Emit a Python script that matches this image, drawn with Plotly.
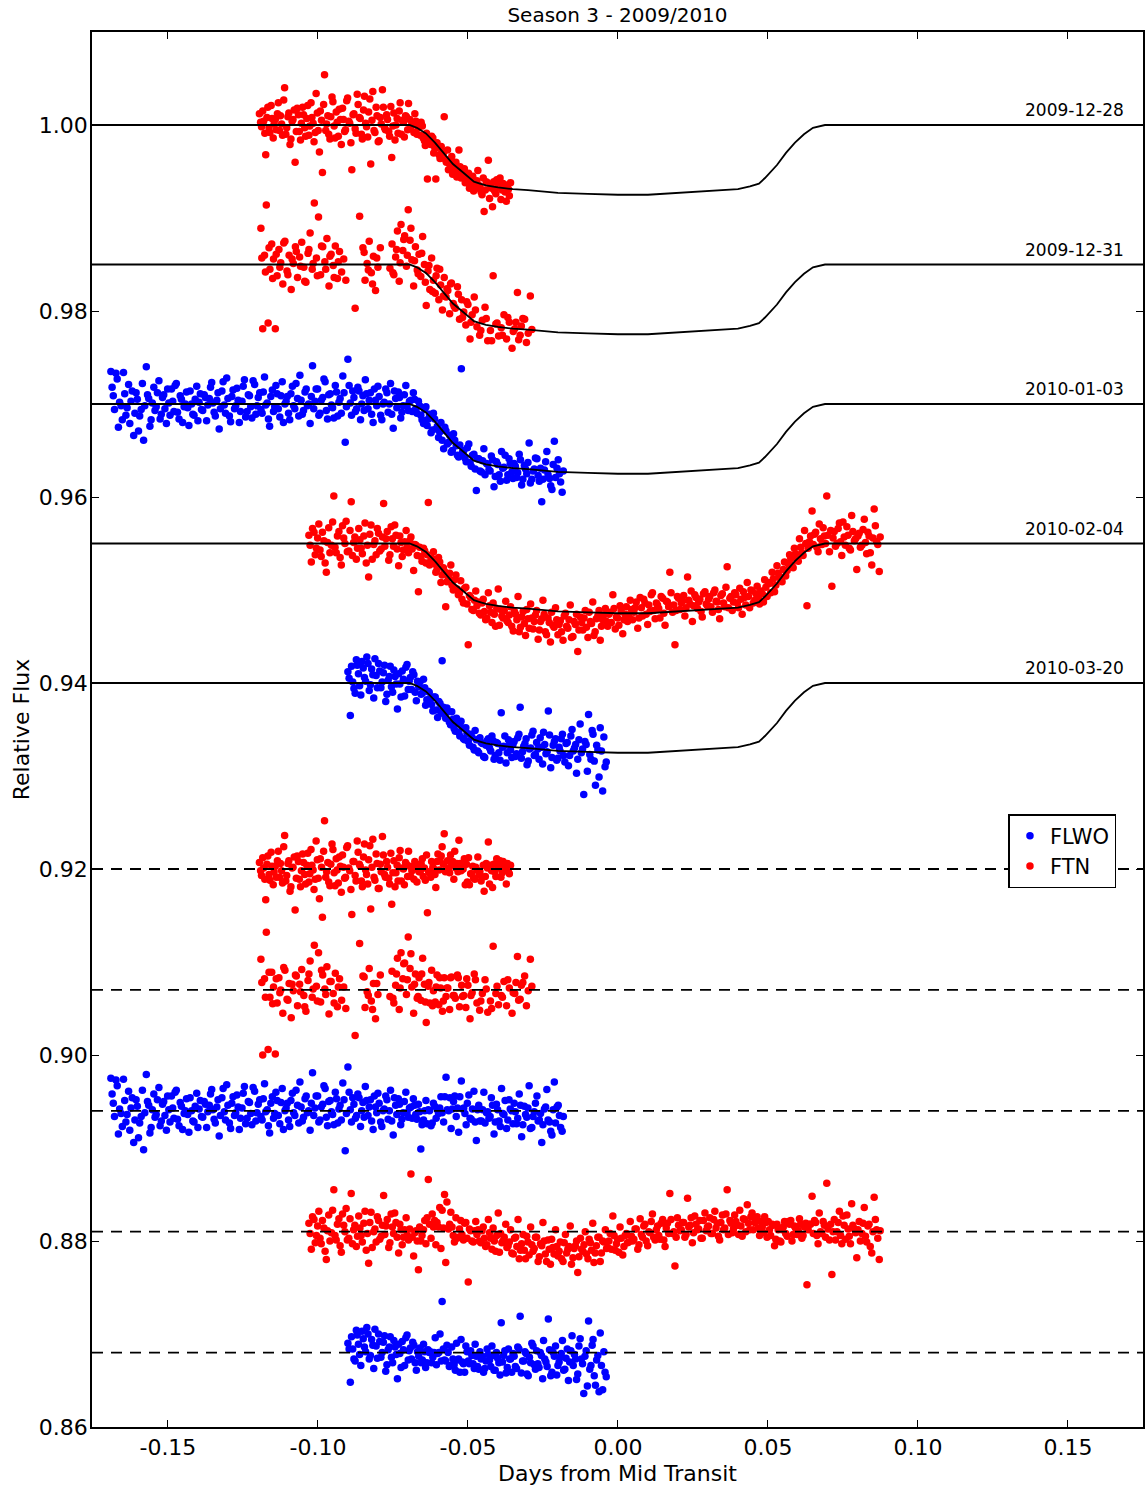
import plotly.graph_objects as go

# ---------------- data ----------------
nights = ["2009-12-28", "2009-12-31", "2010-01-03", "2010-02-04", "2010-03-20"]
telescopes = ["FTN", "FTN", "FLWO", "FTN", "FLWO"]
baselines = [1.000, 0.985, 0.970, 0.955, 0.940]
resid_baselines = [0.920, 0.907, 0.894, 0.881, 0.868]

model_x = [-0.1760, -0.0695, -0.0670, -0.0640, -0.0610, -0.0580, -0.0550, -0.0520, -0.0500, -0.0480,
           -0.0460, -0.0440, -0.0400, -0.0350, -0.0300, -0.0200, -0.0100, 0.0000, 0.0100, 0.0200,
           0.0300, 0.0400, 0.0440, 0.0470, 0.0490, 0.0510, 0.0530, 0.0560, 0.0590, 0.0620,
           0.0650, 0.0690, 0.1760]
model_depth = [0.0, 0.0, 0.0003, 0.0009, 0.0019, 0.0030, 0.0042, 0.0050, 0.0056, 0.0061,
               0.0063, 0.0065, 0.0067, 0.0069, 0.0070, 0.0073, 0.0074, 0.0075, 0.0075, 0.0073,
               0.0071, 0.0069, 0.0066, 0.0063, 0.0057, 0.0050, 0.0043, 0.0030, 0.0019, 0.0010,
               0.0003, 0.0, 0.0]

# ---- 2009-12-28 (FTN) ----
x_1228 = [-0.1195, -0.1188, -0.1181, -0.1174, -0.1167, -0.1160, -0.1153, -0.1146, -0.1139, -0.1132,
          -0.1125, -0.1118, -0.1111, -0.1104, -0.1097, -0.1090, -0.1083, -0.1076, -0.1069, -0.1062,
          -0.1055, -0.1048, -0.1041, -0.1034, -0.1027, -0.1020, -0.1013, -0.1006, -0.0999, -0.0992,
          -0.0985, -0.0978, -0.0971, -0.0964, -0.0957, -0.0950, -0.0943, -0.0936, -0.0929, -0.0922,
          -0.0915, -0.0908, -0.0901, -0.0894, -0.0887, -0.0880, -0.0873, -0.0866, -0.0859, -0.0852,
          -0.0845, -0.0838, -0.0831, -0.0824, -0.0817, -0.0810, -0.0803, -0.0796, -0.0789, -0.0782,
          -0.0775, -0.0768, -0.0761, -0.0754, -0.0747, -0.0740, -0.0733, -0.0726, -0.0719, -0.0712,
          -0.0705, -0.0698, -0.0691, -0.0684, -0.0677, -0.0670, -0.0663, -0.0656, -0.0649, -0.0642,
          -0.0635, -0.0628, -0.0621, -0.0614, -0.0607, -0.0600, -0.0593, -0.0586, -0.0579, -0.0572,
          -0.0565, -0.0558, -0.0551, -0.0544, -0.0537, -0.0530, -0.0523, -0.0516, -0.0509, -0.0502,
          -0.0495, -0.0488, -0.0481, -0.0474, -0.0467, -0.0460, -0.0453, -0.0446, -0.0439, -0.0432,
          -0.0425, -0.0418, -0.0411, -0.0404, -0.0397, -0.0390, -0.0383, -0.0376, -0.0369, -0.0362,
          -0.1191, -0.1184, -0.1177, -0.1170, -0.1163, -0.1156, -0.1149, -0.1142, -0.1135, -0.1128,
          -0.1121, -0.1114, -0.1107, -0.1100, -0.1093, -0.1086, -0.1079, -0.1072, -0.1065, -0.1058,
          -0.1051, -0.1044, -0.1037, -0.1030, -0.1023, -0.1016, -0.1009, -0.1002, -0.0995, -0.0988,
          -0.0981, -0.0974, -0.0967, -0.0960, -0.0953, -0.0946, -0.0939, -0.0932, -0.0925, -0.0918,
          -0.0911, -0.0904, -0.0897, -0.0890, -0.0883, -0.0876, -0.0869, -0.0862, -0.0855, -0.0848,
          -0.0841, -0.0834, -0.0827, -0.0820, -0.0813, -0.0806, -0.0799, -0.0792, -0.0785, -0.0778,
          -0.0771, -0.0764, -0.0757, -0.0750, -0.0743, -0.0736, -0.0729, -0.0722, -0.0715, -0.0708,
          -0.0701, -0.0694, -0.0687, -0.0680, -0.0673, -0.0666, -0.0659, -0.0652, -0.0645, -0.0638,
          -0.0631, -0.0624, -0.0617, -0.0610, -0.0603, -0.0596, -0.0589, -0.0582, -0.0575, -0.0568,
          -0.0561, -0.0554, -0.0547, -0.0540, -0.0533, -0.0526, -0.0519, -0.0512, -0.0505, -0.0498,
          -0.0491, -0.0484, -0.0477, -0.0470, -0.0463, -0.0456, -0.0449, -0.0442, -0.0435, -0.0428,
          -0.0421, -0.0414, -0.0407, -0.0400, -0.0393, -0.0386, -0.0379, -0.0372, -0.0365, -0.0358]
flux_1228 = [1.0012, 0.9998, 1.0004, 0.9968, 1.0019, 0.9992, 1.0007, 1.0001, 0.9995, 1.0024,
             1.0010, 0.9989, 1.0040, 0.9997, 1.0013, 0.9985, 1.0006, 0.9960, 1.0018, 0.9993,
             1.0002, 1.0011, 0.9988, 1.0021, 0.9999, 1.0008, 0.9982, 1.0034, 0.9994, 1.0015,
             0.9949, 1.0054, 1.0001, 0.9990, 1.0009, 1.0025, 0.9986, 1.0003, 1.0017, 0.9979,
             1.0006, 0.9995, 1.0029, 1.0002, 0.9952, 1.0012, 0.9991, 1.0022, 1.0007, 0.9985,
             1.0031, 0.9998, 1.0014, 0.9958, 1.0036, 0.9992, 1.0010, 0.9983, 1.0001, 1.0019,
             0.9995, 1.0006, 0.9988, 0.9965, 1.0013, 1.0000, 0.9991, 1.0024, 1.0005, 0.9987,
             1.0009, 1.0023, 0.9996, 1.0003, 1.0012, 0.9990, 0.9998, 1.0003, 0.9986, 0.9978,
             0.9942, 0.9980, 0.9988, 0.9970, 0.9942, 0.9976, 0.9964, 0.9972, 1.0009, 0.9960,
             0.9952, 0.9961, 0.9947, 0.9955, 0.9944, 0.9973, 0.9943, 0.9950, 0.9938, 0.9945,
             0.9932, 0.9940, 0.9929, 0.9936, 0.9951, 0.9934, 0.9925, 0.9907, 0.9939, 0.9962,
             0.9936, 0.9912, 0.9929, 0.9941, 0.9933, 0.9920, 0.9937, 0.9928, 0.9934, 0.9924,
             1.0003, 1.0015, 0.9991, 1.0008, 0.9997, 1.0021, 0.9986, 1.0006, 1.0012, 0.9994,
             1.0001, 1.0027, 0.9990, 1.0009, 0.9979, 1.0004, 1.0016, 0.9993, 1.0011, 0.9984,
             1.0019, 0.9997, 1.0007, 0.9989, 1.0024, 1.0002, 0.9992, 1.0013, 0.9971, 1.0005,
             1.0022, 0.9994, 1.0010, 0.9985, 1.0030, 0.9999, 1.0014, 0.9988, 1.0006, 1.0018,
             0.9993, 1.0026, 1.0004, 0.9981, 1.0011, 0.9996, 1.0033, 1.0008, 0.9990, 1.0016,
             1.0002, 0.9987, 1.0028, 1.0005, 0.9994, 1.0019, 0.9982, 1.0008, 1.0038, 0.9997,
             1.0011, 0.9993, 1.0020, 0.9999, 0.9984, 1.0007, 1.0015, 0.9990, 1.0003, 1.0010,
             0.9995, 1.0006, 1.0001, 0.9992, 1.0004, 0.9997, 0.9989, 0.9999, 0.9983, 0.9991,
             0.9985, 0.9979, 0.9986, 0.9975, 0.9981, 0.9968, 0.9977, 0.9970, 0.9963, 0.9973,
             0.9958, 0.9966, 0.9951, 0.9960, 0.9949, 0.9955, 0.9946, 0.9953, 0.9941, 0.9948,
             0.9937, 0.9945, 0.9931, 0.9940, 0.9935, 0.9928, 0.9943, 0.9930, 0.9938, 0.9921,
             0.9932, 0.9939, 0.9926, 0.9935, 0.9943, 0.9930, 0.9936, 0.9918, 0.9931, 0.9938]
resid_1228 = [0.9207, 0.9193, 0.9201, 0.9167, 0.9214, 0.9188, 0.9203, 0.9197, 0.9191, 0.9219,
              0.9206, 0.9185, 0.9236, 0.9193, 0.9209, 0.9181, 0.9202, 0.9156, 0.9214, 0.9189,
              0.9198, 0.9207, 0.9184, 0.9217, 0.9195, 0.9204, 0.9178, 0.9230, 0.9190, 0.9211,
              0.9148, 0.9252, 0.9197, 0.9186, 0.9205, 0.9221, 0.9182, 0.9199, 0.9213, 0.9175,
              0.9202, 0.9191, 0.9225, 0.9198, 0.9151, 0.9208, 0.9187, 0.9218, 0.9203, 0.9181,
              0.9227, 0.9194, 0.9210, 0.9157, 0.9232, 0.9188, 0.9206, 0.9179, 0.9197, 0.9215,
              0.9191, 0.9202, 0.9184, 0.9162, 0.9209, 0.9196, 0.9187, 0.9220, 0.9201, 0.9183,
              0.9205, 0.9219, 0.9192, 0.9199, 0.9208, 0.9186, 0.9197, 0.9206, 0.9192, 0.9188,
              0.9153, 0.9196, 0.9208, 0.9200, 0.9180, 0.9216, 0.9209, 0.9224, 0.9238, 0.9198,
              0.9201, 0.9215, 0.9208, 0.9219, 0.9206, 0.9231, 0.9198, 0.9200, 0.9183, 0.9186,
              0.9183, 0.9195, 0.9190, 0.9202, 0.9213, 0.9197, 0.9191, 0.9176, 0.9206, 0.9229,
              0.9204, 0.9180, 0.9197, 0.9211, 0.9203, 0.9191, 0.9208, 0.9199, 0.9206, 0.9195,
              0.9198, 0.9212, 0.9189, 0.9205, 0.9194, 0.9218, 0.9183, 0.9203, 0.9209, 0.9191,
              0.9198, 0.9224, 0.9187, 0.9206, 0.9176, 0.9201, 0.9213, 0.9190, 0.9208, 0.9181,
              0.9216, 0.9194, 0.9204, 0.9186, 0.9221, 0.9199, 0.9189, 0.9210, 0.9168, 0.9202,
              0.9219, 0.9191, 0.9207, 0.9182, 0.9227, 0.9196, 0.9211, 0.9185, 0.9203, 0.9215,
              0.9190, 0.9223, 0.9201, 0.9178, 0.9208, 0.9193, 0.9230, 0.9205, 0.9187, 0.9213,
              0.9199, 0.9184, 0.9225, 0.9202, 0.9191, 0.9216, 0.9179, 0.9205, 0.9235, 0.9194,
              0.9208, 0.9190, 0.9217, 0.9196, 0.9181, 0.9204, 0.9212, 0.9187, 0.9200, 0.9207,
              0.9192, 0.9203, 0.9198, 0.9189, 0.9205, 0.9202, 0.9197, 0.9211, 0.9201, 0.9215,
              0.9197, 0.9191, 0.9202, 0.9194, 0.9208, 0.9199, 0.9214, 0.9205, 0.9197, 0.9209,
              0.9196, 0.9204, 0.9189, 0.9201, 0.9197, 0.9206, 0.9200, 0.9211, 0.9205, 0.9212,
              0.9195, 0.9203, 0.9189, 0.9199, 0.9194, 0.9187, 0.9204, 0.9192, 0.9201, 0.9184,
              0.9198, 0.9205, 0.9192, 0.9201, 0.9209, 0.9196, 0.9202, 0.9184, 0.9197, 0.9204]

# ---- 2009-12-31 (FTN) ----
x_1231 = [-0.1190, -0.1184, -0.1178, -0.1172, -0.1166, -0.1160, -0.1154, -0.1148, -0.1142, -0.1136,
          -0.1130, -0.1124, -0.1117, -0.1110, -0.1103, -0.1096, -0.1089, -0.1082, -0.1075, -0.1068,
          -0.1061, -0.1054, -0.1047, -0.1040, -0.1033, -0.1026, -0.1019, -0.1012, -0.1005, -0.0998,
          -0.0991, -0.0984, -0.0977, -0.0970, -0.0963, -0.0956, -0.0949, -0.0942, -0.0935, -0.0928,
          -0.0921, -0.0914, -0.0907, -0.0876, -0.0861, -0.0850, -0.0843, -0.0836, -0.0829, -0.0822,
          -0.0815, -0.0808, -0.0800, -0.0792, -0.0760, -0.0753, -0.0747, -0.0741, -0.0735, -0.0729,
          -0.0723, -0.0717, -0.0711, -0.0705, -0.0699, -0.0693, -0.0687, -0.0681, -0.0675, -0.0669,
          -0.0663, -0.0657, -0.0651, -0.0645, -0.0639, -0.0633, -0.0627, -0.0621, -0.0615, -0.0609,
          -0.0603, -0.0597, -0.0591, -0.0585, -0.0579, -0.0573, -0.0567, -0.0561, -0.0555, -0.0549,
          -0.0542, -0.0535, -0.0528, -0.0521, -0.0514, -0.0507, -0.0500, -0.0493, -0.0486, -0.0479,
          -0.0470, -0.0461, -0.0452, -0.0443, -0.0434, -0.0425, -0.0416, -0.0407, -0.0398, -0.0389,
          -0.0380, -0.0371, -0.0362, -0.0353, -0.0344, -0.0335, -0.0326, -0.0317, -0.0305, -0.0292,
          -0.1187, -0.1175, -0.1163, -0.1151, -0.1139, -0.1127, -0.1114, -0.1100, -0.1086, -0.1072,
          -0.1058, -0.1044, -0.1030, -0.1016, -0.1002, -0.0988, -0.0974, -0.0960, -0.0946, -0.0932,
          -0.0846, -0.0832, -0.0818, -0.0804, -0.0750, -0.0738, -0.0726, -0.0714, -0.0702, -0.0690,
          -0.0678, -0.0666, -0.0654, -0.0642, -0.0630, -0.0618, -0.0606, -0.0594, -0.0582, -0.0570,
          -0.0558, -0.0546, -0.0532, -0.0518, -0.0504, -0.0490, -0.0475, -0.0457, -0.0439, -0.0421,
          -0.0403, -0.0385, -0.0367, -0.0349, -0.0340, -0.0331, -0.0322, -0.0311, -0.0299, -0.0287]
flux_1231 = [0.9889, 0.9781, 0.9860, 0.9914, 0.9787, 0.9845, 0.9872, 0.9856, 0.9781, 0.9838,
             0.9866, 0.9852, 0.9829, 0.9875, 0.9843, 0.9860, 0.9823, 0.9851, 0.9869, 0.9836,
             0.9858, 0.9874, 0.9847, 0.9831, 0.9862, 0.9884, 0.9845, 0.9916, 0.9857, 0.9901,
             0.9839, 0.9869, 0.9853, 0.9878, 0.9827, 0.9861, 0.9849, 0.9870, 0.9835, 0.9864,
             0.9842, 0.9856, 0.9833, 0.9803, 0.9902, 0.9868, 0.9833, 0.9851, 0.9875, 0.9841,
             0.9859, 0.9822, 0.9847, 0.9868, 0.9846, 0.9872, 0.9839, 0.9858, 0.9886, 0.9832,
             0.9893, 0.9865, 0.9881, 0.9848, 0.9909, 0.9876, 0.9855, 0.9827, 0.9869, 0.9844,
             0.9861, 0.9837, 0.9880, 0.9850, 0.9806, 0.9843, 0.9823, 0.9857, 0.9833, 0.9819,
             0.9846, 0.9812, 0.9828, 0.9801, 0.9836, 0.9815, 0.9822, 0.9797, 0.9830, 0.9808,
             0.9803, 0.9826, 0.9791, 0.9812, 0.9799, 0.9785, 0.9807, 0.9770, 0.9796, 0.9815,
             0.9783, 0.9774, 0.9790, 0.9804, 0.9768, 0.9779, 0.9838, 0.9786, 0.9773, 0.9782,
             0.9796, 0.9770, 0.9788, 0.9760, 0.9781, 0.9820, 0.9774, 0.9792, 0.9766, 0.9816,
             0.9857, 0.9842, 0.9868, 0.9835, 0.9861, 0.9847, 0.9873, 0.9839, 0.9856, 0.9864,
             0.9848, 0.9832, 0.9866, 0.9851, 0.9838, 0.9870, 0.9845, 0.9859, 0.9836, 0.9853,
             0.9863, 0.9844, 0.9829, 0.9857, 0.9841, 0.9866, 0.9852, 0.9877, 0.9860, 0.9889,
             0.9854, 0.9840, 0.9862, 0.9831, 0.9849, 0.9821, 0.9838, 0.9845, 0.9816, 0.9824,
             0.9829, 0.9805, 0.9818, 0.9793, 0.9810, 0.9788, 0.9801, 0.9779, 0.9792, 0.9768,
             0.9787, 0.9774, 0.9793, 0.9778, 0.9788, 0.9769, 0.9784, 0.9791, 0.9776, 0.9780]
resid_1231 = [0.9103, 0.9000, 0.9082, 0.9132, 0.9006, 0.9062, 0.9089, 0.9073, 0.9001, 0.9056,
              0.9083, 0.9070, 0.9045, 0.9091, 0.9060, 0.9077, 0.9040, 0.9069, 0.9086, 0.9053,
              0.9076, 0.9092, 0.9064, 0.9047, 0.9080, 0.9101, 0.9062, 0.9118, 0.9074, 0.9110,
              0.9057, 0.9086, 0.9071, 0.9095, 0.9044, 0.9079, 0.9066, 0.9088, 0.9052, 0.9082,
              0.9059, 0.9073, 0.9050, 0.9021, 0.9120, 0.9085, 0.9051, 0.9068, 0.9093, 0.9058,
              0.9077, 0.9039, 0.9065, 0.9086, 0.9063, 0.9090, 0.9056, 0.9075, 0.9104, 0.9049,
              0.9110, 0.9082, 0.9099, 0.9065, 0.9127, 0.9093, 0.9073, 0.9045, 0.9087, 0.9061,
              0.9083, 0.9059, 0.9104, 0.9076, 0.9035, 0.9074, 0.9056, 0.9091, 0.9069, 0.9057,
              0.9086, 0.9054, 0.9072, 0.9047, 0.9083, 0.9063, 0.9072, 0.9049, 0.9084, 0.9064,
              0.9061, 0.9086, 0.9052, 0.9075, 0.9064, 0.9051, 0.9075, 0.9039, 0.9067, 0.9087,
              0.9056, 0.9048, 0.9066, 0.9081, 0.9046, 0.9058, 0.9117, 0.9066, 0.9054, 0.9064,
              0.9079, 0.9053, 0.9072, 0.9045, 0.9066, 0.9106, 0.9060, 0.9078, 0.9053, 0.9103,
              0.9078, 0.9062, 0.9089, 0.9055, 0.9082, 0.9067, 0.9094, 0.9059, 0.9076, 0.9085,
              0.9068, 0.9052, 0.9087, 0.9071, 0.9058, 0.9091, 0.9065, 0.9079, 0.9056, 0.9073,
              0.9084, 0.9064, 0.9049, 0.9077, 0.9061, 0.9087, 0.9072, 0.9098, 0.9081, 0.9109,
              0.9076, 0.9063, 0.9087, 0.9057, 0.9078, 0.9053, 0.9073, 0.9083, 0.9058, 0.9072,
              0.9083, 0.9064, 0.9083, 0.9063, 0.9082, 0.9064, 0.9081, 0.9058, 0.9071, 0.9050,
              0.9074, 0.9062, 0.9081, 0.9067, 0.9078, 0.9059, 0.9075, 0.9085, 0.9069, 0.9074]

# ---- 2010-01-03 (FLWO) ----
x_0103 = [-0.1690, -0.1682, -0.1673, -0.1665, -0.1656, -0.1648, -0.1640, -0.1631, -0.1623, -0.1614,
          -0.1606, -0.1598, -0.1589, -0.1581, -0.1572, -0.1564, -0.1556, -0.1547, -0.1539, -0.1530,
          -0.1522, -0.1514, -0.1505, -0.1497, -0.1488, -0.1480, -0.1472, -0.1463, -0.1455, -0.1446,
          -0.1438, -0.1430, -0.1421, -0.1413, -0.1404, -0.1396, -0.1388, -0.1379, -0.1371, -0.1362,
          -0.1354, -0.1346, -0.1337, -0.1329, -0.1320, -0.1312, -0.1304, -0.1295, -0.1287, -0.1278,
          -0.1270, -0.1262, -0.1253, -0.1245, -0.1236, -0.1228, -0.1220, -0.1211, -0.1203, -0.1194,
          -0.1186, -0.1178, -0.1169, -0.1161, -0.1152, -0.1144, -0.1136, -0.1127, -0.1119, -0.1110,
          -0.1102, -0.1094, -0.1085, -0.1077, -0.1068, -0.1060, -0.1052, -0.1043, -0.1035, -0.1026,
          -0.1018, -0.1010, -0.1001, -0.0993, -0.0984, -0.0976, -0.0968, -0.0959, -0.0951, -0.0942,
          -0.0934, -0.0926, -0.0917, -0.0909, -0.0900, -0.0892, -0.0884, -0.0875, -0.0867, -0.0858,
          -0.0850, -0.0842, -0.0833, -0.0825, -0.0816, -0.0808, -0.0800, -0.0791, -0.0783, -0.0774,
          -0.0766, -0.0758, -0.0749, -0.0741, -0.0732, -0.0724, -0.0716, -0.0707, -0.0699, -0.0690,
          -0.0682, -0.0674, -0.0665, -0.0657, -0.0648, -0.0640, -0.0632, -0.0623, -0.0615, -0.0606,
          -0.0598, -0.0590, -0.0581, -0.0573, -0.0564, -0.0556, -0.0548, -0.0539, -0.0531, -0.0522,
          -0.0514, -0.0506, -0.0497, -0.0489, -0.0480, -0.0472, -0.0464, -0.0455, -0.0447, -0.0438,
          -0.0430, -0.0422, -0.0413, -0.0405, -0.0396, -0.0388, -0.0380, -0.0371, -0.0363, -0.0354,
          -0.0346, -0.0338, -0.0329, -0.0321, -0.0312, -0.0304, -0.0296, -0.0287, -0.0279, -0.0270,
          -0.0262, -0.0254, -0.0245, -0.0237, -0.0228, -0.0220, -0.0212, -0.0203, -0.0195, -0.0186,
          -0.1686, -0.1678, -0.1669, -0.1661, -0.1652, -0.1644, -0.1636, -0.1627, -0.1619, -0.1610,
          -0.1602, -0.1594, -0.1585, -0.1577, -0.1568, -0.1560, -0.1552, -0.1543, -0.1535, -0.1526,
          -0.1518, -0.1510, -0.1501, -0.1493, -0.1484, -0.1476, -0.1468, -0.1459, -0.1451, -0.1442,
          -0.1434, -0.1426, -0.1417, -0.1409, -0.1400, -0.1392, -0.1384, -0.1375, -0.1367, -0.1358,
          -0.1350, -0.1342, -0.1333, -0.1325, -0.1316, -0.1308, -0.1300, -0.1291, -0.1283, -0.1274,
          -0.1266, -0.1258, -0.1249, -0.1241, -0.1232, -0.1224, -0.1216, -0.1207, -0.1199, -0.1190,
          -0.1182, -0.1174, -0.1165, -0.1157, -0.1148, -0.1140, -0.1132, -0.1123, -0.1115, -0.1106,
          -0.1098, -0.1090, -0.1081, -0.1073, -0.1064, -0.1056, -0.1048, -0.1039, -0.1031, -0.1022,
          -0.1014, -0.1006, -0.0997, -0.0989, -0.0980, -0.0972, -0.0964, -0.0955, -0.0947, -0.0938,
          -0.0930, -0.0922, -0.0913, -0.0905, -0.0896, -0.0888, -0.0880, -0.0871, -0.0863, -0.0854,
          -0.0846, -0.0838, -0.0829, -0.0821, -0.0812, -0.0804, -0.0796, -0.0787, -0.0779, -0.0770,
          -0.0762, -0.0754, -0.0745, -0.0737, -0.0728, -0.0720, -0.0712, -0.0703, -0.0695, -0.0686,
          -0.0678, -0.0670, -0.0661, -0.0653, -0.0644, -0.0636, -0.0628, -0.0619, -0.0611, -0.0602,
          -0.0594, -0.0586, -0.0577, -0.0569, -0.0560, -0.0552, -0.0544, -0.0535, -0.0527, -0.0518,
          -0.0510, -0.0502, -0.0493, -0.0485, -0.0476, -0.0468, -0.0460, -0.0451, -0.0443, -0.0434,
          -0.0426, -0.0418, -0.0409, -0.0401, -0.0392, -0.0384, -0.0376, -0.0367, -0.0359, -0.0350,
          -0.0342, -0.0334, -0.0325, -0.0317, -0.0308, -0.0300, -0.0292, -0.0283, -0.0275, -0.0266,
          -0.0258, -0.0250, -0.0241, -0.0233, -0.0224, -0.0216, -0.0208, -0.0199, -0.0191, -0.0182]
flux_0103 = [0.9735, 0.9709, 0.9733, 0.9675, 0.9698, 0.9734, 0.9688, 0.9721, 0.9703, 0.9666,
             0.9712, 0.9671, 0.9694, 0.9661, 0.9740, 0.9706, 0.9683, 0.9718, 0.9697, 0.9725,
             0.9689, 0.9710, 0.9679, 0.9701, 0.9716, 0.9692, 0.9722, 0.9684, 0.9705, 0.9697,
             0.9713, 0.9677, 0.9700, 0.9688, 0.9719, 0.9702, 0.9694, 0.9710, 0.9682, 0.9706,
             0.9723, 0.9691, 0.9704, 0.9673, 0.9714, 0.9699, 0.9728, 0.9687, 0.9708, 0.9695,
             0.9717, 0.9680, 0.9703, 0.9726, 0.9692, 0.9709, 0.9685, 0.9721, 0.9698, 0.9712,
             0.9690, 0.9729, 0.9701, 0.9676, 0.9715, 0.9697, 0.9711, 0.9686, 0.9724, 0.9700,
             0.9708, 0.9683, 0.9719, 0.9695, 0.9706, 0.9731, 0.9689, 0.9713, 0.9698, 0.9679,
             0.9741, 0.9703, 0.9716, 0.9690, 0.9707, 0.9724, 0.9684, 0.9711, 0.9696, 0.9720,
             0.9687, 0.9706, 0.9730, 0.9659, 0.9748, 0.9701, 0.9714, 0.9692, 0.9718, 0.9683,
             0.9709, 0.9726, 0.9695, 0.9712, 0.9680, 0.9704, 0.9719, 0.9688, 0.9700, 0.9716,
             0.9691, 0.9722, 0.9674, 0.9706, 0.9713, 0.9685, 0.9698, 0.9720, 0.9693, 0.9704,
             0.9712, 0.9695, 0.9703, 0.9688, 0.9679, 0.9697, 0.9684, 0.9669, 0.9690, 0.9673,
             0.9664, 0.9680, 0.9652, 0.9671, 0.9659, 0.9648, 0.9668, 0.9655, 0.9643, 0.9738,
             0.9650, 0.9638, 0.9657, 0.9633, 0.9646, 0.9607, 0.9641, 0.9627, 0.9652, 0.9636,
             0.9629, 0.9644, 0.9611, 0.9638, 0.9624, 0.9649, 0.9632, 0.9618, 0.9641, 0.9627,
             0.9636, 0.9621, 0.9646, 0.9613, 0.9634, 0.9625, 0.9658, 0.9619, 0.9630, 0.9641,
             0.9617, 0.9595, 0.9629, 0.9649, 0.9620, 0.9608, 0.9660, 0.9631, 0.9625, 0.9605,
             0.9718, 0.9694, 0.9727, 0.9702, 0.9683, 0.9711, 0.9696, 0.9679, 0.9714, 0.9690,
             0.9705, 0.9687, 0.9722, 0.9698, 0.9710, 0.9676, 0.9701, 0.9693, 0.9712, 0.9684,
             0.9707, 0.9695, 0.9716, 0.9688, 0.9703, 0.9720, 0.9691, 0.9709, 0.9680, 0.9700,
             0.9696, 0.9714, 0.9689, 0.9705, 0.9682, 0.9711, 0.9693, 0.9707, 0.9699, 0.9718,
             0.9701, 0.9687, 0.9712, 0.9695, 0.9724, 0.9690, 0.9706, 0.9681, 0.9715, 0.9698,
             0.9704, 0.9692, 0.9719, 0.9686, 0.9710, 0.9697, 0.9725, 0.9689, 0.9707, 0.9694,
             0.9713, 0.9699, 0.9684, 0.9708, 0.9692, 0.9720, 0.9695, 0.9709, 0.9680, 0.9703,
             0.9690, 0.9711, 0.9698, 0.9722, 0.9687, 0.9704, 0.9693, 0.9716, 0.9700, 0.9708,
             0.9695, 0.9716, 0.9688, 0.9704, 0.9727, 0.9693, 0.9710, 0.9699, 0.9685, 0.9713,
             0.9702, 0.9690, 0.9712, 0.9697, 0.9720, 0.9688, 0.9707, 0.9695, 0.9714, 0.9700,
             0.9693, 0.9711, 0.9704, 0.9689, 0.9716, 0.9698, 0.9708, 0.9683, 0.9702, 0.9712,
             0.9700, 0.9689, 0.9714, 0.9696, 0.9707, 0.9691, 0.9710, 0.9698, 0.9703, 0.9692,
             0.9705, 0.9690, 0.9698, 0.9683, 0.9694, 0.9677, 0.9689, 0.9672, 0.9684, 0.9676,
             0.9670, 0.9661, 0.9675, 0.9657, 0.9666, 0.9650, 0.9661, 0.9645, 0.9656, 0.9648,
             0.9642, 0.9653, 0.9637, 0.9645, 0.9630, 0.9641, 0.9628, 0.9639, 0.9624, 0.9635,
             0.9628, 0.9640, 0.9622, 0.9635, 0.9617, 0.9631, 0.9645, 0.9624, 0.9636, 0.9620,
             0.9633, 0.9626, 0.9640, 0.9619, 0.9630, 0.9637, 0.9615, 0.9628, 0.9642, 0.9623,
             0.9631, 0.9619, 0.9638, 0.9624, 0.9612, 0.9635, 0.9621, 0.9640, 0.9616, 0.9628]
resid_0103 = [0.8975, 0.8948, 0.8973, 0.8915, 0.8937, 0.8974, 0.8928, 0.8961, 0.8943, 0.8906,
              0.8952, 0.8911, 0.8934, 0.8898, 0.8979, 0.8946, 0.8922, 0.8958, 0.8936, 0.8965,
              0.8929, 0.8950, 0.8919, 0.8941, 0.8956, 0.8932, 0.8962, 0.8924, 0.8945, 0.8937,
              0.8953, 0.8917, 0.8940, 0.8928, 0.8959, 0.8942, 0.8934, 0.8950, 0.8922, 0.8946,
              0.8963, 0.8931, 0.8944, 0.8913, 0.8954, 0.8939, 0.8968, 0.8927, 0.8948, 0.8935,
              0.8957, 0.8920, 0.8943, 0.8966, 0.8932, 0.8949, 0.8925, 0.8961, 0.8938, 0.8952,
              0.8930, 0.8969, 0.8941, 0.8916, 0.8955, 0.8937, 0.8951, 0.8926, 0.8964, 0.8940,
              0.8948, 0.8923, 0.8959, 0.8935, 0.8946, 0.8971, 0.8929, 0.8953, 0.8938, 0.8919,
              0.8981, 0.8943, 0.8956, 0.8930, 0.8947, 0.8964, 0.8924, 0.8951, 0.8936, 0.8960,
              0.8927, 0.8946, 0.8970, 0.8897, 0.8987, 0.8941, 0.8954, 0.8932, 0.8958, 0.8923,
              0.8949, 0.8966, 0.8935, 0.8952, 0.8920, 0.8944, 0.8959, 0.8928, 0.8940, 0.8956,
              0.8931, 0.8962, 0.8914, 0.8946, 0.8953, 0.8925, 0.8938, 0.8960, 0.8933, 0.8944,
              0.8953, 0.8936, 0.8947, 0.8899, 0.8930, 0.8951, 0.8941, 0.8924, 0.8948, 0.8932,
              0.8937, 0.8955, 0.8928, 0.8976, 0.8940, 0.8921, 0.8950, 0.8934, 0.8917, 0.8972,
              0.8943, 0.8925, 0.8957, 0.8931, 0.8961, 0.8908, 0.8946, 0.8929, 0.8960, 0.8938,
              0.8932, 0.8954, 0.8915, 0.8947, 0.8929, 0.8964, 0.8936, 0.8921, 0.8952, 0.8940,
              0.8948, 0.8926, 0.8958, 0.8912, 0.8945, 0.8933, 0.8967, 0.8922, 0.8939, 0.8956,
              0.8930, 0.8906, 0.8942, 0.8963, 0.8928, 0.8914, 0.8971, 0.8944, 0.8935, 0.8918,
              0.8958, 0.8934, 0.8967, 0.8942, 0.8923, 0.8951, 0.8936, 0.8919, 0.8954, 0.8930,
              0.8945, 0.8927, 0.8962, 0.8938, 0.8950, 0.8916, 0.8941, 0.8933, 0.8952, 0.8924,
              0.8947, 0.8935, 0.8956, 0.8928, 0.8943, 0.8960, 0.8931, 0.8949, 0.8920, 0.8940,
              0.8936, 0.8954, 0.8929, 0.8945, 0.8922, 0.8951, 0.8933, 0.8947, 0.8939, 0.8958,
              0.8941, 0.8927, 0.8952, 0.8935, 0.8964, 0.8930, 0.8946, 0.8921, 0.8955, 0.8938,
              0.8944, 0.8932, 0.8959, 0.8926, 0.8950, 0.8937, 0.8965, 0.8929, 0.8947, 0.8934,
              0.8953, 0.8939, 0.8924, 0.8948, 0.8932, 0.8960, 0.8935, 0.8949, 0.8920, 0.8943,
              0.8930, 0.8951, 0.8938, 0.8962, 0.8927, 0.8944, 0.8933, 0.8956, 0.8940, 0.8948,
              0.8935, 0.8956, 0.8928, 0.8944, 0.8967, 0.8933, 0.8950, 0.8939, 0.8925, 0.8953,
              0.8942, 0.8930, 0.8952, 0.8937, 0.8960, 0.8928, 0.8947, 0.8935, 0.8954, 0.8940,
              0.8933, 0.8951, 0.8944, 0.8929, 0.8956, 0.8938, 0.8948, 0.8923, 0.8942, 0.8952,
              0.8940, 0.8929, 0.8954, 0.8936, 0.8947, 0.8931, 0.8950, 0.8938, 0.8943, 0.8932,
              0.8946, 0.8931, 0.8939, 0.8925, 0.8940, 0.8926, 0.8940, 0.8927, 0.8945, 0.8941,
              0.8943, 0.8938, 0.8955, 0.8941, 0.8954, 0.8942, 0.8956, 0.8943, 0.8955, 0.8942,
              0.8937, 0.8948, 0.8932, 0.8942, 0.8928, 0.8941, 0.8929, 0.8941, 0.8927, 0.8939,
              0.8934, 0.8946, 0.8928, 0.8941, 0.8923, 0.8937, 0.8951, 0.8930, 0.8942, 0.8926,
              0.8939, 0.8932, 0.8946, 0.8925, 0.8936, 0.8943, 0.8921, 0.8934, 0.8948, 0.8929,
              0.8937, 0.8925, 0.8944, 0.8930, 0.8918, 0.8941, 0.8927, 0.8946, 0.8922, 0.8934]

# ---- 2010-02-04 (FTN) ----
x_0204 = [-0.1030, -0.1022, -0.1013, -0.1005, -0.0997, -0.0989, -0.0980, -0.0972, -0.0964, -0.0955,
          -0.0947, -0.0939, -0.0930, -0.0922, -0.0914, -0.0906, -0.0897, -0.0889, -0.0881, -0.0872,
          -0.0864, -0.0856, -0.0847, -0.0839, -0.0831, -0.0823, -0.0814, -0.0806, -0.0798, -0.0789,
          -0.0781, -0.0773, -0.0764, -0.0756, -0.0748, -0.0740, -0.0731, -0.0723, -0.0715, -0.0706,
          -0.0698, -0.0690, -0.0681, -0.0673, -0.0665, -0.0657, -0.0648, -0.0640, -0.0632, -0.0623,
          -0.0615, -0.0607, -0.0598, -0.0590, -0.0582, -0.0574, -0.0565, -0.0557, -0.0549, -0.0540,
          -0.0532, -0.0524, -0.0515, -0.0507, -0.0499, -0.0491, -0.0482, -0.0474, -0.0466, -0.0457,
          -0.0449, -0.0441, -0.0432, -0.0424, -0.0416, -0.0408, -0.0399, -0.0391, -0.0383, -0.0374,
          -0.0366, -0.0358, -0.0349, -0.0341, -0.0333, -0.0325, -0.0316, -0.0308, -0.0300, -0.0291,
          -0.0283, -0.0275, -0.0266, -0.0258, -0.0250, -0.0242, -0.0233, -0.0225, -0.0217, -0.0208,
          -0.0200, -0.0192, -0.0183, -0.0175, -0.0167, -0.0159, -0.0150, -0.0142, -0.0134, -0.0125,
          -0.0117, -0.0109, -0.0100, -0.0092, -0.0084, -0.0076, -0.0067, -0.0059, -0.0051, -0.0042,
          -0.0034, -0.0026, -0.0017, -0.0009, -0.0001, 0.0007, 0.0016, 0.0024, 0.0032, 0.0041,
          0.0049, 0.0057, 0.0066, 0.0074, 0.0082, 0.0090, 0.0099, 0.0107, 0.0115, 0.0124,
          0.0132, 0.0140, 0.0149, 0.0157, 0.0165, 0.0173, 0.0182, 0.0190, 0.0198, 0.0207,
          0.0215, 0.0223, 0.0232, 0.0240, 0.0248, 0.0256, 0.0265, 0.0273, 0.0281, 0.0290,
          0.0298, 0.0306, 0.0315, 0.0323, 0.0331, 0.0339, 0.0348, 0.0356, 0.0364, 0.0373,
          0.0381, 0.0389, 0.0398, 0.0406, 0.0414, 0.0422, 0.0431, 0.0439, 0.0447, 0.0456,
          0.0464, 0.0472, 0.0481, 0.0489, 0.0497, 0.0505, 0.0514, 0.0522, 0.0530, 0.0539,
          0.0547, 0.0555, 0.0564, 0.0572, 0.0580, 0.0588, 0.0597, 0.0605, 0.0613, 0.0622,
          0.0630, 0.0638, 0.0647, 0.0655, 0.0663, 0.0671, 0.0680, 0.0688, 0.0696, 0.0705,
          0.0713, 0.0721, 0.0730, 0.0738, 0.0746, 0.0754, 0.0763, 0.0771, 0.0779, 0.0788,
          0.0796, 0.0804, 0.0813, 0.0821, 0.0829, 0.0837, 0.0846, 0.0854, 0.0862, 0.0871,
          -0.1026, -0.1018, -0.1009, -0.1001, -0.0993, -0.0985, -0.0976, -0.0968, -0.0960, -0.0951,
          -0.0943, -0.0935, -0.0926, -0.0918, -0.0910, -0.0902, -0.0893, -0.0885, -0.0877, -0.0868,
          -0.0860, -0.0852, -0.0843, -0.0835, -0.0827, -0.0819, -0.0810, -0.0802, -0.0794, -0.0785,
          -0.0777, -0.0769, -0.0760, -0.0752, -0.0744, -0.0736, -0.0727, -0.0719, -0.0711, -0.0702,
          -0.0694, -0.0686, -0.0677, -0.0669, -0.0661, -0.0653, -0.0644, -0.0636, -0.0628, -0.0619,
          -0.0611, -0.0603, -0.0594, -0.0586, -0.0578, -0.0570, -0.0561, -0.0553, -0.0545, -0.0536,
          -0.0528, -0.0520, -0.0511, -0.0503, -0.0495, -0.0487, -0.0478, -0.0470, -0.0462, -0.0453,
          -0.0445, -0.0437, -0.0428, -0.0420, -0.0412, -0.0404, -0.0395, -0.0387, -0.0379, -0.0370,
          -0.0362, -0.0354, -0.0345, -0.0337, -0.0329, -0.0321, -0.0312, -0.0304, -0.0296, -0.0287,
          -0.0279, -0.0271, -0.0262, -0.0254, -0.0246, -0.0238, -0.0229, -0.0221, -0.0213, -0.0204,
          -0.0196, -0.0188, -0.0179, -0.0171, -0.0163, -0.0155, -0.0146, -0.0138, -0.0130, -0.0121,
          -0.0113, -0.0105, -0.0096, -0.0088, -0.0080, -0.0072, -0.0063, -0.0055, -0.0047, -0.0038,
          -0.0030, -0.0022, -0.0013, -0.0005, 0.0003, 0.0011, 0.0020, 0.0028, 0.0036, 0.0045,
          0.0053, 0.0061, 0.0070, 0.0078, 0.0086, 0.0094, 0.0103, 0.0111, 0.0119, 0.0128,
          0.0136, 0.0144, 0.0153, 0.0161, 0.0169, 0.0177, 0.0186, 0.0194, 0.0202, 0.0211,
          0.0219, 0.0227, 0.0236, 0.0244, 0.0252, 0.0260, 0.0269, 0.0277, 0.0285, 0.0294,
          0.0302, 0.0310, 0.0319, 0.0327, 0.0335, 0.0343, 0.0352, 0.0360, 0.0368, 0.0377,
          0.0385, 0.0393, 0.0402, 0.0410, 0.0418, 0.0426, 0.0435, 0.0443, 0.0451, 0.0460,
          0.0468, 0.0476, 0.0485, 0.0493, 0.0501, 0.0509, 0.0518, 0.0526, 0.0534, 0.0543,
          0.0551, 0.0559, 0.0568, 0.0576, 0.0584, 0.0592, 0.0601, 0.0609, 0.0617, 0.0626,
          0.0634, 0.0642, 0.0651, 0.0659, 0.0667, 0.0675, 0.0684, 0.0692, 0.0700, 0.0709,
          0.0717, 0.0725, 0.0734, 0.0742, 0.0750, 0.0758, 0.0767, 0.0775, 0.0783, 0.0792,
          0.0800, 0.0808, 0.0817, 0.0825, 0.0833, 0.0841, 0.0850, 0.0858, 0.0866, 0.0874]
flux_0204 = [0.9559, 0.9530, 0.9562, 0.9545, 0.9571, 0.9536, 0.9553, 0.9519, 0.9567, 0.9548,
             0.9601, 0.9540, 0.9563, 0.9527, 0.9556, 0.9574, 0.9542, 0.9595, 0.9551, 0.9533,
             0.9566, 0.9545, 0.9558, 0.9529, 0.9514, 0.9570, 0.9549, 0.9538, 0.9561, 0.9544,
             0.9593, 0.9555, 0.9532, 0.9568, 0.9547, 0.9559, 0.9526, 0.9551, 0.9543, 0.9564,
             0.9540, 0.9557, 0.9521, 0.9548, 0.9498, 0.9536, 0.9545, 0.9529, 0.9594, 0.9533,
             0.9541, 0.9519, 0.9535, 0.9508, 0.9524, 0.9482, 0.9513, 0.9527, 0.9500, 0.9516,
             0.9495, 0.9510, 0.9486, 0.9503, 0.9441, 0.9492, 0.9478, 0.9499, 0.9487, 0.9473,
             0.9490, 0.9468, 0.9497, 0.9476, 0.9486, 0.9461, 0.9501, 0.9479, 0.9470, 0.9488,
             0.9465, 0.9482, 0.9456, 0.9474, 0.9493, 0.9460, 0.9477, 0.9451, 0.9469, 0.9485,
             0.9458, 0.9473, 0.9447, 0.9466, 0.9489, 0.9455, 0.9470, 0.9444, 0.9462, 0.9481,
             0.9452, 0.9467, 0.9446, 0.9475, 0.9459, 0.9484, 0.9450, 0.9463, 0.9434, 0.9471,
             0.9457, 0.9478, 0.9449, 0.9466, 0.9487, 0.9455, 0.9472, 0.9446, 0.9468, 0.9480,
             0.9461, 0.9476, 0.9495, 0.9458, 0.9470, 0.9483, 0.9453, 0.9474, 0.9466, 0.9489,
             0.9468, 0.9481, 0.9459, 0.9492, 0.9472, 0.9486, 0.9463, 0.9477, 0.9497, 0.9469,
             0.9484, 0.9470, 0.9491, 0.9462, 0.9487, 0.9519, 0.9476, 0.9441, 0.9493, 0.9479,
             0.9488, 0.9472, 0.9514, 0.9485, 0.9466, 0.9495, 0.9480, 0.9490, 0.9471, 0.9498,
             0.9483, 0.9493, 0.9476, 0.9500, 0.9487, 0.9469, 0.9496, 0.9482, 0.9525, 0.9491,
             0.9478, 0.9497, 0.9486, 0.9502, 0.9474, 0.9492, 0.9508, 0.9481, 0.9499, 0.9489,
             0.9504, 0.9485, 0.9496, 0.9511, 0.9493, 0.9507, 0.9519, 0.9498, 0.9526, 0.9514,
             0.9509, 0.9530, 0.9521, 0.9538, 0.9527, 0.9545, 0.9533, 0.9555, 0.9540, 0.9564,
             0.9483, 0.9552, 0.9585, 0.9560, 0.9546, 0.9571, 0.9549, 0.9558, 0.9601, 0.9541,
             0.9504, 0.9563, 0.9550, 0.9572, 0.9537, 0.9557, 0.9568, 0.9545, 0.9580, 0.9553,
             0.9522, 0.9561, 0.9548, 0.9576, 0.9539, 0.9558, 0.9527, 0.9587, 0.9552, 0.9520,
             0.9548, 0.9566, 0.9538, 0.9556, 0.9543, 0.9562, 0.9529, 0.9551, 0.9540, 0.9573,
             0.9546, 0.9558, 0.9535, 0.9569, 0.9550, 0.9541, 0.9564, 0.9537, 0.9557, 0.9545,
             0.9554, 0.9539, 0.9572, 0.9548, 0.9560, 0.9533, 0.9553, 0.9566, 0.9542, 0.9557,
             0.9547, 0.9563, 0.9538, 0.9555, 0.9570, 0.9544, 0.9558, 0.9536, 0.9552, 0.9546,
             0.9553, 0.9544, 0.9549, 0.9537, 0.9546, 0.9531, 0.9542, 0.9538, 0.9527, 0.9534,
             0.9528, 0.9522, 0.9530, 0.9516, 0.9520, 0.9509, 0.9518, 0.9505, 0.9511, 0.9501,
             0.9497, 0.9490, 0.9502, 0.9485, 0.9494, 0.9479, 0.9489, 0.9483, 0.9475, 0.9486,
             0.9477, 0.9470, 0.9483, 0.9465, 0.9474, 0.9480, 0.9462, 0.9472, 0.9478, 0.9467,
             0.9473, 0.9461, 0.9477, 0.9468, 0.9455, 0.9471, 0.9464, 0.9479, 0.9459, 0.9470,
             0.9466, 0.9478, 0.9457, 0.9469, 0.9474, 0.9452, 0.9465, 0.9476, 0.9460, 0.9468,
             0.9463, 0.9455, 0.9472, 0.9461, 0.9468, 0.9449, 0.9466, 0.9474, 0.9457, 0.9465,
             0.9470, 0.9460, 0.9476, 0.9464, 0.9451, 0.9469, 0.9478, 0.9461, 0.9473, 0.9466,
             0.9474, 0.9465, 0.9480, 0.9471, 0.9462, 0.9477, 0.9468, 0.9482, 0.9473, 0.9479,
             0.9476, 0.9487, 0.9470, 0.9481, 0.9490, 0.9474, 0.9484, 0.9495, 0.9478, 0.9486,
             0.9480, 0.9493, 0.9475, 0.9488, 0.9482, 0.9497, 0.9484, 0.9478, 0.9491, 0.9486,
             0.9494, 0.9481, 0.9489, 0.9499, 0.9483, 0.9492, 0.9487, 0.9477, 0.9496, 0.9485,
             0.9490, 0.9482, 0.9497, 0.9488, 0.9479, 0.9494, 0.9486, 0.9503, 0.9481, 0.9493,
             0.9487, 0.9495, 0.9481, 0.9490, 0.9498, 0.9484, 0.9493, 0.9500, 0.9486, 0.9496,
             0.9492, 0.9499, 0.9487, 0.9503, 0.9508, 0.9497, 0.9512, 0.9505, 0.9518, 0.9510,
             0.9522, 0.9515, 0.9528, 0.9534, 0.9524, 0.9539, 0.9531, 0.9546, 0.9537, 0.9550,
             0.9545, 0.9558, 0.9549, 0.9562, 0.9541, 0.9555, 0.9567, 0.9550, 0.9559, 0.9564,
             0.9556, 0.9547, 0.9566, 0.9552, 0.9573, 0.9548, 0.9559, 0.9543, 0.9563, 0.9555,
             0.9558, 0.9546, 0.9565, 0.9551, 0.9562, 0.9540, 0.9556, 0.9569, 0.9549, 0.9557]
resid_0204 = [0.8819, 0.8791, 0.8823, 0.8806, 0.8832, 0.8797, 0.8814, 0.8780, 0.8828, 0.8809,
              0.8855, 0.8801, 0.8824, 0.8788, 0.8817, 0.8835, 0.8803, 0.8851, 0.8812, 0.8794,
              0.8827, 0.8806, 0.8819, 0.8790, 0.8776, 0.8831, 0.8810, 0.8799, 0.8822, 0.8805,
              0.8849, 0.8816, 0.8793, 0.8829, 0.8808, 0.8820, 0.8787, 0.8812, 0.8804, 0.8825,
              0.8801, 0.8872, 0.8784, 0.8811, 0.8769, 0.8800, 0.8812, 0.8797, 0.8866, 0.8803,
              0.8815, 0.8796, 0.8815, 0.8792, 0.8814, 0.8777, 0.8813, 0.8831, 0.8806, 0.8825,
              0.8804, 0.8822, 0.8801, 0.8820, 0.8756, 0.8811, 0.8799, 0.8821, 0.8812, 0.8798,
              0.8815, 0.8794, 0.8823, 0.8803, 0.8814, 0.8789, 0.8830, 0.8808, 0.8800, 0.8818,
              0.8795, 0.8812, 0.8786, 0.8804, 0.8823, 0.8790, 0.8807, 0.8781, 0.8799, 0.8815,
              0.8789, 0.8804, 0.8778, 0.8797, 0.8820, 0.8786, 0.8801, 0.8775, 0.8793, 0.8812,
              0.8784, 0.8799, 0.8778, 0.8807, 0.8791, 0.8816, 0.8782, 0.8795, 0.8766, 0.8803,
              0.8789, 0.8810, 0.8781, 0.8798, 0.8819, 0.8787, 0.8804, 0.8778, 0.8800, 0.8812,
              0.8793, 0.8808, 0.8827, 0.8790, 0.8802, 0.8815, 0.8785, 0.8806, 0.8798, 0.8821,
              0.8800, 0.8813, 0.8791, 0.8824, 0.8804, 0.8818, 0.8795, 0.8809, 0.8829, 0.8801,
              0.8816, 0.8802, 0.8823, 0.8794, 0.8819, 0.8851, 0.8808, 0.8773, 0.8825, 0.8811,
              0.8820, 0.8804, 0.8846, 0.8817, 0.8798, 0.8827, 0.8812, 0.8822, 0.8803, 0.8830,
              0.8815, 0.8825, 0.8808, 0.8832, 0.8819, 0.8801, 0.8828, 0.8814, 0.8855, 0.8822,
              0.8809, 0.8828, 0.8817, 0.8833, 0.8805, 0.8823, 0.8839, 0.8812, 0.8830, 0.8820,
              0.8826, 0.8806, 0.8815, 0.8826, 0.8804, 0.8812, 0.8818, 0.8795, 0.8818, 0.8800,
              0.8812, 0.8821, 0.8805, 0.8818, 0.8800, 0.8816, 0.8807, 0.8824, 0.8803, 0.8815,
              0.8753, 0.8818, 0.8848, 0.8822, 0.8806, 0.8830, 0.8808, 0.8817, 0.8862, 0.8801,
              0.8764, 0.8823, 0.8810, 0.8832, 0.8797, 0.8817, 0.8828, 0.8805, 0.8840, 0.8813,
              0.8782, 0.8821, 0.8808, 0.8836, 0.8799, 0.8818, 0.8787, 0.8847, 0.8812, 0.8780,
              0.8808, 0.8826, 0.8798, 0.8816, 0.8803, 0.8822, 0.8789, 0.8811, 0.8800, 0.8833,
              0.8806, 0.8818, 0.8795, 0.8829, 0.8810, 0.8801, 0.8824, 0.8797, 0.8817, 0.8805,
              0.8814, 0.8799, 0.8832, 0.8808, 0.8820, 0.8793, 0.8813, 0.8826, 0.8802, 0.8817,
              0.8807, 0.8823, 0.8798, 0.8815, 0.8830, 0.8804, 0.8818, 0.8796, 0.8812, 0.8806,
              0.8813, 0.8804, 0.8809, 0.8800, 0.8815, 0.8806, 0.8822, 0.8825, 0.8818, 0.8829,
              0.8822, 0.8820, 0.8836, 0.8833, 0.8850, 0.8842, 0.8818, 0.8815, 0.8799, 0.8803,
              0.8813, 0.8807, 0.8819, 0.8803, 0.8813, 0.8800, 0.8811, 0.8807, 0.8800, 0.8811,
              0.8803, 0.8796, 0.8809, 0.8791, 0.8800, 0.8806, 0.8788, 0.8798, 0.8804, 0.8793,
              0.8799, 0.8787, 0.8803, 0.8794, 0.8781, 0.8797, 0.8790, 0.8805, 0.8785, 0.8796,
              0.8792, 0.8804, 0.8783, 0.8795, 0.8800, 0.8778, 0.8791, 0.8802, 0.8786, 0.8794,
              0.8789, 0.8781, 0.8798, 0.8787, 0.8794, 0.8775, 0.8792, 0.8800, 0.8783, 0.8791,
              0.8796, 0.8786, 0.8802, 0.8790, 0.8777, 0.8795, 0.8804, 0.8787, 0.8799, 0.8792,
              0.8800, 0.8791, 0.8806, 0.8797, 0.8788, 0.8803, 0.8794, 0.8808, 0.8799, 0.8805,
              0.8802, 0.8813, 0.8796, 0.8807, 0.8816, 0.8800, 0.8810, 0.8821, 0.8804, 0.8812,
              0.8806, 0.8819, 0.8801, 0.8814, 0.8808, 0.8823, 0.8810, 0.8804, 0.8817, 0.8812,
              0.8820, 0.8807, 0.8815, 0.8825, 0.8809, 0.8818, 0.8813, 0.8803, 0.8822, 0.8811,
              0.8816, 0.8808, 0.8823, 0.8814, 0.8805, 0.8820, 0.8812, 0.8829, 0.8807, 0.8819,
              0.8813, 0.8821, 0.8807, 0.8816, 0.8824, 0.8810, 0.8819, 0.8826, 0.8812, 0.8822,
              0.8814, 0.8821, 0.8809, 0.8820, 0.8821, 0.8806, 0.8817, 0.8802, 0.8812, 0.8799,
              0.8815, 0.8808, 0.8821, 0.8822, 0.8807, 0.8814, 0.8811, 0.8818, 0.8806, 0.8819,
              0.8812, 0.8818, 0.8808, 0.8820, 0.8797, 0.8810, 0.8821, 0.8804, 0.8813, 0.8818,
              0.8810, 0.8801, 0.8820, 0.8806, 0.8827, 0.8802, 0.8813, 0.8797, 0.8817, 0.8809,
              0.8812, 0.8800, 0.8819, 0.8805, 0.8816, 0.8794, 0.8810, 0.8823, 0.8803, 0.8811]

# ---- 2010-03-20 (FLWO) ----
x_0320 = [-0.0900, -0.0892, -0.0884, -0.0876, -0.0869, -0.0861, -0.0853, -0.0845, -0.0837, -0.0829,
          -0.0821, -0.0814, -0.0806, -0.0798, -0.0790, -0.0782, -0.0774, -0.0766, -0.0759, -0.0751,
          -0.0743, -0.0735, -0.0727, -0.0719, -0.0711, -0.0703, -0.0696, -0.0688, -0.0680, -0.0672,
          -0.0664, -0.0656, -0.0648, -0.0641, -0.0633, -0.0625, -0.0617, -0.0609, -0.0601, -0.0593,
          -0.0586, -0.0578, -0.0570, -0.0562, -0.0554, -0.0546, -0.0538, -0.0531, -0.0523, -0.0515,
          -0.0507, -0.0499, -0.0491, -0.0483, -0.0476, -0.0468, -0.0460, -0.0452, -0.0444, -0.0436,
          -0.0428, -0.0420, -0.0413, -0.0405, -0.0397, -0.0389, -0.0381, -0.0373, -0.0365, -0.0358,
          -0.0350, -0.0342, -0.0334, -0.0326, -0.0318, -0.0310, -0.0303, -0.0295, -0.0287, -0.0279,
          -0.0271, -0.0263, -0.0255, -0.0248, -0.0240, -0.0232, -0.0224, -0.0216, -0.0208, -0.0200,
          -0.0193, -0.0185, -0.0177, -0.0169, -0.0161, -0.0153, -0.0145, -0.0138, -0.0130, -0.0122,
          -0.0114, -0.0106, -0.0098, -0.0090, -0.0083, -0.0075, -0.0067, -0.0059, -0.0051, -0.0043,
          -0.0896, -0.0888, -0.0880, -0.0872, -0.0865, -0.0857, -0.0849, -0.0841, -0.0833, -0.0825,
          -0.0817, -0.0810, -0.0802, -0.0794, -0.0786, -0.0778, -0.0770, -0.0762, -0.0755, -0.0747,
          -0.0739, -0.0731, -0.0723, -0.0715, -0.0707, -0.0699, -0.0692, -0.0684, -0.0676, -0.0668,
          -0.0660, -0.0652, -0.0644, -0.0637, -0.0629, -0.0621, -0.0613, -0.0605, -0.0597, -0.0589,
          -0.0582, -0.0574, -0.0566, -0.0558, -0.0550, -0.0542, -0.0534, -0.0527, -0.0519, -0.0511,
          -0.0503, -0.0495, -0.0487, -0.0479, -0.0472, -0.0464, -0.0456, -0.0448, -0.0440, -0.0432,
          -0.0424, -0.0416, -0.0409, -0.0401, -0.0393, -0.0385, -0.0377, -0.0369, -0.0361, -0.0354,
          -0.0346, -0.0338, -0.0330, -0.0322, -0.0314, -0.0306, -0.0299, -0.0291, -0.0283, -0.0275,
          -0.0267, -0.0259, -0.0251, -0.0244, -0.0236, -0.0228, -0.0220, -0.0212, -0.0204, -0.0196,
          -0.0189, -0.0181, -0.0173, -0.0165, -0.0157, -0.0149, -0.0141, -0.0134, -0.0126, -0.0118,
          -0.0110, -0.0102, -0.0094, -0.0086, -0.0079, -0.0071, -0.0063, -0.0055, -0.0047, -0.0039]
flux_0320 = [0.9412, 0.9365, 0.9401, 0.9389, 0.9419, 0.9397, 0.9423, 0.9406, 0.9428, 0.9392,
             0.9415, 0.9384, 0.9408, 0.9421, 0.9395, 0.9411, 0.9380, 0.9403, 0.9418, 0.9390,
             0.9407, 0.9372, 0.9399, 0.9413, 0.9386, 0.9420, 0.9402, 0.9393, 0.9409, 0.9381,
             0.9396, 0.9388, 0.9404, 0.9376, 0.9391, 0.9383, 0.9370, 0.9385, 0.9363, 0.9378,
             0.9424, 0.9366, 0.9373, 0.9358, 0.9369, 0.9351, 0.9362, 0.9347, 0.9359, 0.9340,
             0.9352, 0.9337, 0.9345, 0.9331, 0.9349, 0.9327, 0.9341, 0.9335, 0.9320, 0.9338,
             0.9330, 0.9343, 0.9318, 0.9336, 0.9325, 0.9368, 0.9332, 0.9314, 0.9339, 0.9328,
             0.9334, 0.9321, 0.9341, 0.9374, 0.9326, 0.9335, 0.9312, 0.9329, 0.9344, 0.9322,
             0.9336, 0.9318, 0.9331, 0.9347, 0.9324, 0.9370, 0.9309, 0.9333, 0.9340, 0.9319,
             0.9327, 0.9345, 0.9315, 0.9336, 0.9322, 0.9350, 0.9330, 0.9303, 0.9339, 0.9325,
             0.9280, 0.9334, 0.9366, 0.9318, 0.9345, 0.9290, 0.9328, 0.9352, 0.9284, 0.9310,
             0.9405, 0.9418, 0.9394, 0.9425, 0.9410, 0.9387, 0.9416, 0.9402, 0.9421, 0.9398,
             0.9409, 0.9426, 0.9395, 0.9413, 0.9401, 0.9419, 0.9388, 0.9407, 0.9396, 0.9414,
             0.9399, 0.9410, 0.9385, 0.9404, 0.9417, 0.9393, 0.9406, 0.9412, 0.9390, 0.9402,
             0.9401, 0.9389, 0.9395, 0.9382, 0.9390, 0.9377, 0.9385, 0.9371, 0.9380, 0.9368,
             0.9374, 0.9362, 0.9369, 0.9355, 0.9361, 0.9348, 0.9357, 0.9343, 0.9352, 0.9339,
             0.9346, 0.9333, 0.9342, 0.9328, 0.9339, 0.9325, 0.9336, 0.9321, 0.9333, 0.9340,
             0.9327, 0.9338, 0.9322, 0.9335, 0.9317, 0.9331, 0.9343, 0.9325, 0.9334, 0.9320,
             0.9337, 0.9324, 0.9345, 0.9319, 0.9332, 0.9340, 0.9316, 0.9330, 0.9348, 0.9323,
             0.9329, 0.9341, 0.9313, 0.9334, 0.9326, 0.9344, 0.9320, 0.9337, 0.9317, 0.9331,
             0.9340, 0.9322, 0.9335, 0.9311, 0.9343, 0.9327, 0.9334, 0.9318, 0.9356, 0.9329,
             0.9337, 0.9305, 0.9323, 0.9349, 0.9316, 0.9333, 0.9299, 0.9327, 0.9342, 0.9315]
resid_0320 = [0.8690, 0.8648, 0.8684, 0.8671, 0.8699, 0.8678, 0.8703, 0.8686, 0.8707, 0.8673,
              0.8694, 0.8663, 0.8687, 0.8700, 0.8675, 0.8691, 0.8660, 0.8683, 0.8697, 0.8669,
              0.8686, 0.8652, 0.8679, 0.8692, 0.8666, 0.8699, 0.8682, 0.8673, 0.8688, 0.8661,
              0.8676, 0.8669, 0.8689, 0.8664, 0.8683, 0.8681, 0.8675, 0.8696, 0.8679, 0.8700,
              0.8735, 0.8672, 0.8688, 0.8665, 0.8686, 0.8667, 0.8690, 0.8673, 0.8694, 0.8668,
              0.8687, 0.8671, 0.8682, 0.8668, 0.8689, 0.8665, 0.8681, 0.8676, 0.8663, 0.8684,
              0.8672, 0.8687, 0.8661, 0.8680, 0.8669, 0.8712, 0.8677, 0.8658, 0.8684, 0.8673,
              0.8679, 0.8665, 0.8686, 0.8719, 0.8671, 0.8681, 0.8657, 0.8675, 0.8690, 0.8667,
              0.8682, 0.8664, 0.8677, 0.8693, 0.8670, 0.8716, 0.8655, 0.8680, 0.8687, 0.8666,
              0.8675, 0.8693, 0.8662, 0.8684, 0.8670, 0.8698, 0.8678, 0.8651, 0.8687, 0.8673,
              0.8636, 0.8682, 0.8714, 0.8666, 0.8694, 0.8645, 0.8677, 0.8701, 0.8640, 0.8659,
              0.8684, 0.8697, 0.8673, 0.8704, 0.8689, 0.8666, 0.8695, 0.8681, 0.8700, 0.8677,
              0.8688, 0.8705, 0.8674, 0.8692, 0.8680, 0.8698, 0.8667, 0.8686, 0.8675, 0.8693,
              0.8678, 0.8689, 0.8664, 0.8683, 0.8696, 0.8672, 0.8685, 0.8691, 0.8669, 0.8681,
              0.8685, 0.8672, 0.8681, 0.8669, 0.8680, 0.8669, 0.8680, 0.8667, 0.8680, 0.8671,
              0.8684, 0.8671, 0.8680, 0.8666, 0.8673, 0.8661, 0.8672, 0.8659, 0.8670, 0.8659,
              0.8681, 0.8668, 0.8677, 0.8663, 0.8676, 0.8662, 0.8673, 0.8659, 0.8671, 0.8678,
              0.8665, 0.8677, 0.8661, 0.8674, 0.8656, 0.8670, 0.8682, 0.8664, 0.8673, 0.8659,
              0.8676, 0.8663, 0.8684, 0.8658, 0.8671, 0.8679, 0.8655, 0.8669, 0.8687, 0.8662,
              0.8668, 0.8680, 0.8652, 0.8673, 0.8665, 0.8683, 0.8659, 0.8676, 0.8656, 0.8670,
              0.8679, 0.8661, 0.8674, 0.8650, 0.8682, 0.8666, 0.8673, 0.8657, 0.8695, 0.8668,
              0.8676, 0.8644, 0.8662, 0.8688, 0.8655, 0.8672, 0.8638, 0.8666, 0.8681, 0.8654]

times = [x_1228, x_1231, x_0103, x_0204, x_0320]
fluxes = [flux_1228, flux_1231, flux_0103, flux_0204, flux_0320]
residuals = [resid_1228, resid_1231, resid_0103, resid_0204, resid_0320]

x_tickvals = [-0.15, -0.10, -0.05, 0.00, 0.05, 0.10, 0.15]
x_ticktext = ["-0.15", "-0.10", "-0.05", "0.00", "0.05", "0.10", "0.15"]
y_tickvals = [0.86, 0.88, 0.90, 0.92, 0.94, 0.96, 0.98, 1.00]
y_ticktext = ["0.86", "0.88", "0.90", "0.92", "0.94", "0.96", "0.98", "1.00"]

colors = {"FLWO": "#0000ff", "FTN": "#ff0000"}
legend_rank = {"FLWO": 1, "FTN": 2}

# ---------------- figure ----------------
FONT = "DejaVu Sans, Verdana, sans-serif"
fig = go.Figure()
shown = set()
for t, f, r, tel in zip(times, fluxes, residuals, telescopes):
    n = min(len(t), len(f), len(r))
    show = tel not in shown
    shown.add(tel)
    fig.add_trace(go.Scatter(
        x=t[:n], y=f[:n], mode="markers", name=tel, legendgroup=tel,
        showlegend=show, legendrank=legend_rank[tel],
        marker=dict(color=colors[tel], size=7.5, line=dict(width=0)),
    ))
    fig.add_trace(go.Scatter(
        x=t[:n], y=r[:n], mode="markers", name=tel, legendgroup=tel,
        showlegend=False, marker=dict(color=colors[tel], size=7.5, line=dict(width=0)),
    ))

for b in baselines:
    fig.add_trace(go.Scatter(
        x=model_x, y=[b - d for d in model_depth], mode="lines", showlegend=False,
        line=dict(color="black", width=1.8), hoverinfo="skip",
    ))

for rb in resid_baselines:
    fig.add_shape(type="line", xref="paper", x0=0, x1=1, yref="y", y0=rb, y1=rb,
                  line=dict(color="black", width=1.8, dash="11px,8px"), layer="above")

for name, b in zip(nights, baselines):
    fig.add_annotation(x=1, xref="paper", xanchor="right", xshift=-17, y=b, yref="y",
                       yanchor="bottom", yshift=3, text=name, showarrow=False,
                       font=dict(family=FONT, size=17, color="black"))

axis_common = dict(showline=True, linecolor="black", linewidth=1.5, mirror="allticks",
                   ticks="inside", ticklen=7, tickwidth=1, tickcolor="black",
                   showgrid=False, zeroline=False,
                   tickfont=dict(family=FONT, size=22, color="black"))

fig.update_layout(
    width=1146, height=1489,
    margin=dict(l=92, r=1, t=32, b=62),
    paper_bgcolor="white", plot_bgcolor="white",
    font=dict(family=FONT, color="black"),
    title=dict(text="Season 3 - 2009/2010", xref="paper", x=0.5, xanchor="center",
               y=1 - 15 / 1489, yanchor="middle", font=dict(family=FONT, size=20, color="black")),
    xaxis=dict(range=[-0.1753, 0.1750], tickvals=x_tickvals, ticktext=x_ticktext,
               title=dict(text="Days from Mid Transit", font=dict(family=FONT, size=22), standoff=6),
               **axis_common),
    yaxis=dict(range=[0.86, 1.01], tickvals=y_tickvals, ticktext=y_ticktext,
               ticklabelstandoff=-2,
               title=dict(text="Relative Flux", font=dict(family=FONT, size=22), standoff=3),
               **axis_common),
    legend=dict(x=0.872, y=0.4394, xanchor="left", yanchor="top",
                bgcolor="white", bordercolor="black", borderwidth=1.5,
                font=dict(family=FONT, size=21, color="black"),
                itemwidth=30, tracegroupgap=0),
    showlegend=True,
)

# remove the browser's default 8px body margin so the figure fills the window exactly
fig.write_html("out.html", config={"displayModeBar": False},
               post_script="document.body.style.margin='0px';")
